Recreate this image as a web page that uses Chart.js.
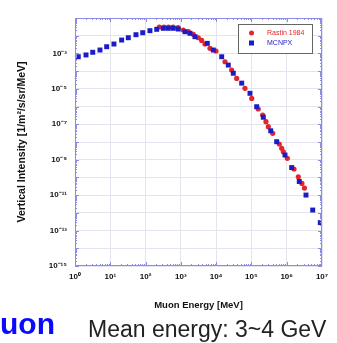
<!DOCTYPE html>
<html>
<head>
<meta charset="utf-8">
<script src="https://cdn.jsdelivr.net/npm/chart.js@4.4.1/dist/chart.umd.min.js"></script>
<style>
  html, body { margin: 0; padding: 0; background: #fff; }
  #wrap { position: relative; width: 337px; height: 343px; overflow: hidden; font-family: "Liberation Sans", Arial, sans-serif; }
  #chart { position: absolute; left: 0; top: 0; }
  .muon { position: absolute; left: 0; top: 309px; font-size: 30px; line-height: 30px; font-weight: bold; color: #0a0aff; }
  .mean { position: absolute; left: 88px; top: 318px; font-size: 23px; line-height: 23px; color: #222; }
</style>
</head>
<body>
<div id="wrap">
  <canvas id="chart" width="337" height="343"></canvas>
  <div class="muon">uon</div>
  <div class="mean">Mean energy: 3~4 GeV</div>
</div>
<script>
// muon vertical intensity vs energy (MeV, 1/m2/s/sr/MeV)
const rastinEnergy = [
  245, 333, 446, 598, 830, 1170, 1630, 2250, 3120, 3890, 4830, 6680, 9890,
  17800, 27500, 38200, 65600, 102000, 156000, 208000, 258000, 301000, 400000,
  615000, 720000, 800000, 1040000, 1610000, 2130000, 2700000, 3180000
];
const rastinIntensity = [
  3.1e-2, 3.1e-2, 3.1e-2, 3.1e-2, 2.91e-2, 2.1e-2, 1.68e-2, 1.2e-2, 7.7e-3, 5.4e-3, 3.4e-3, 1.95e-3, 1.37e-3,
  3.4e-4, 1.16e-4, 3.9e-5, 1.07e-5, 2.9e-6, 7.3e-7, 3.3e-7, 1.4e-7, 7.3e-8, 3.1e-8,
  7.7e-9, 4.4e-9, 2.8e-9, 1.2e-9, 3.0e-10, 1.09e-10, 4.6e-11, 2.5e-11
];

const mcnpxEnergy = [
  1.24, 2.05, 3.18, 5.1, 7.9, 12.7, 21, 32.4, 53.5, 83, 133, 207, 318, 441, 610, 845,
  1310, 1815, 2510, 5610, 8300, 14350, 22100, 30600, 53000, 91000, 141000, 217000,
  352000, 520000, 893000, 1380000, 2270000, 3520000, 5450000, 8930000
];
const mcnpxIntensity = [
  6.5e-4, 8.2e-4, 1.16e-3, 1.56e-3, 2.39e-3, 3.4e-3, 5.7e-3, 7.7e-3, 1.14e-2, 1.48e-2, 1.92e-2, 2.3e-2, 2.62e-2, 2.62e-2, 2.62e-2, 2.39e-2,
  1.68e-2, 1.37e-2, 8.8e-3, 3.7e-3, 1.56e-3, 6.5e-4, 2.2e-4, 7.6e-5, 2.1e-5, 5.6e-6, 9.8e-7, 2.5e-7,
  4.3e-8, 1.04e-8, 1.84e-9, 3.6e-10, 5.9e-11, 1.01e-11, 1.44e-12, 2.8e-13
];

const xTickExp = [0, 1, 2, 3, 4, 5, 6, 7];
const yTickExp = [-15, -14, -13, -12, -11, -10, -9, -8, -7, -6, -5, -4, -3, -2, -1];
const yLabelExp = [-15, -13, -11, -9, -7, -5, -3];

const SUP = { "0": "⁰", "1": "¹", "2": "²", "3": "³", "4": "⁴", "5": "⁵", "6": "⁶", "7": "⁷", "8": "⁸", "9": "⁹", "-": "⁻" };
function powLabel(e) {
  return "10" + String(e).split("").map(c => SUP[c]).join("");
}

const toPoints = (xs, ys) => xs.map((x, i) => ({ x: x, y: ys[i] }));

const axisBlue = "#8c8ce6";

// frame, minor ticks and inset legend
const framePlugin = {
  id: "frame",
  afterDatasetsDraw(chart) {
    const { ctx, chartArea: a, scales } = chart;
    ctx.save();
    ctx.strokeStyle = axisBlue;
    ctx.lineWidth = 1;
    ctx.strokeRect(a.left + 0.5, a.top + 0.5, a.right - a.left - 1, a.bottom - a.top - 1);

    ctx.beginPath();
    for (let e = 0; e < 7; e++) {
      for (let m = 1; m <= 9; m++) {
        const px = Math.round(scales.x.getPixelForValue(m * Math.pow(10, e))) + 0.5;
        const len = m === 1 ? 4 : 2;
        ctx.moveTo(px, a.bottom); ctx.lineTo(px, a.bottom - len);
        ctx.moveTo(px, a.top); ctx.lineTo(px, a.top + len);
      }
    }
    for (let e = -15; e < -1; e++) {
      for (let m = 1; m <= 9; m++) {
        const py = Math.round(scales.y.getPixelForValue(m * Math.pow(10, e))) + 0.5;
        const len = m === 1 ? 4 : 2;
        ctx.moveTo(a.left, py); ctx.lineTo(a.left + len, py);
        ctx.moveTo(a.right, py); ctx.lineTo(a.right - len, py);
      }
    }
    ctx.stroke();

    // legend box
    const bx = a.right - 84, by = a.top + 6, bw = 74, bh = 29;
    ctx.fillStyle = "#fff";
    ctx.fillRect(bx, by, bw, bh);
    ctx.strokeStyle = "#666";
    ctx.strokeRect(bx + 0.5, by + 0.5, bw, bh);
    const items = [chart.data.datasets[1], chart.data.datasets[0]];
    ctx.font = "7px 'Liberation Sans', Arial, sans-serif";
    ctx.textBaseline = "middle";
    items.forEach((ds, i) => {
      const cy = by + 9 + i * 10;
      ctx.fillStyle = ds.backgroundColor;
      if (ds.pointStyle === "rect") {
        ctx.fillRect(bx + 11, cy - 2.5, 5, 5);
      } else {
        ctx.beginPath();
        ctx.arc(bx + 13.5, cy, 2.5, 0, Math.PI * 2);
        ctx.fill();
      }
      ctx.fillStyle = ds.backgroundColor;
      ctx.fillText(ds.label, bx + 29, cy);
    });
    ctx.restore();
  }
};

new Chart(document.getElementById("chart").getContext("2d"), {
  type: "scatter",
  data: {
    datasets: [
      {
        label: "MCNPX",
        data: toPoints(mcnpxEnergy, mcnpxIntensity),
        pointStyle: "rect",
        pointRadius: 3.5,
        backgroundColor: "#1c1cc4",
        borderWidth: 0,
        order: 0
      },
      {
        label: "Rastin 1984",
        data: toPoints(rastinEnergy, rastinIntensity),
        pointStyle: "circle",
        pointRadius: 2.6,
        backgroundColor: "#e3262b",
        borderWidth: 0,
        order: 1
      }
    ]
  },
  options: {
    responsive: false,
    animation: false,
    devicePixelRatio: 1,
    layout: { padding: { top: 18, right: 15, left: 0, bottom: 0 } },
    plugins: {
      legend: { display: false },
      tooltip: { enabled: false }
    },
    scales: {
      x: {
        type: "logarithmic",
        min: 1,
        max: 1e7,
        afterBuildTicks: s => { s.ticks = xTickExp.map(e => ({ value: Math.pow(10, e) })); },
        afterFit: s => { s.height = 77; },
        grid: { color: "#e4e4ee", drawTicks: false },
        border: { display: false },
        ticks: {
          padding: 6,
          autoSkip: false,
          maxRotation: 0,
          color: "#111",
          font: { family: "'Liberation Sans', Arial, sans-serif", size: 8, weight: "bold" },
          callback: v => powLabel(Math.round(Math.log10(v)))
        },
        title: {
          display: true,
          text: "Muon Energy [MeV]",
          color: "#111",
          padding: { top: 0, bottom: 32 },
          font: { family: "'Liberation Sans', Arial, sans-serif", size: 9.5, weight: "bold" }
        }
      },
      y: {
        type: "logarithmic",
        min: 1e-15,
        max: 1e-1,
        afterBuildTicks: s => { s.ticks = yTickExp.map(e => ({ value: Math.pow(10, e) })); },
        afterFit: s => { s.width = 75; },
        grid: { color: "#e4e4ee", drawTicks: false },
        border: { display: false },
        ticks: {
          padding: 8,
          autoSkip: false,
          color: "#111",
          font: { family: "'Liberation Sans', Arial, sans-serif", size: 8, weight: "bold" },
          callback: v => {
            const e = Math.round(Math.log10(v));
            return yLabelExp.includes(e) ? powLabel(e) : "";
          }
        },
        title: {
          display: true,
          text: "Vertical Intensity [1/m²/s/sr/MeV]",
          color: "#111",
          padding: { top: 16, bottom: 0 },
          font: { family: "'Liberation Sans', Arial, sans-serif", size: 10.5, weight: "bold" }
        }
      }
    }
  },
  plugins: [framePlugin]
});
</script>
</body>
</html>
